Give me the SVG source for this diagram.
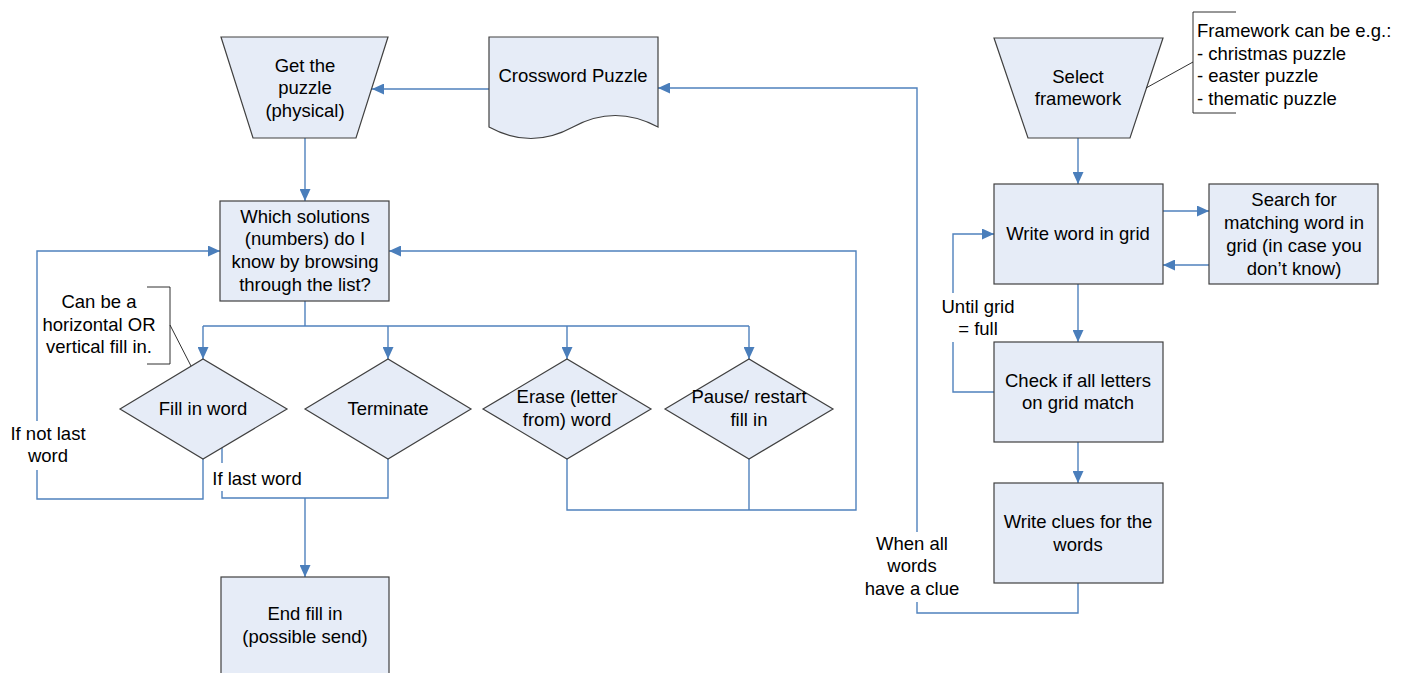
<svg xmlns="http://www.w3.org/2000/svg" width="1412" height="673" viewBox="0 0 1412 673">
  <defs>
    <style>
      .shape { fill: #E6ECF7; stroke: #404040; stroke-width: 1.2; }
      .lbl { font-family: "Liberation Sans", Arial, sans-serif; font-size: 18.5px; fill: #000; text-anchor: middle; }
      .lbl-left { font-family: "Liberation Sans", Arial, sans-serif; font-size: 18.5px; fill: #000; text-anchor: start; }
      .flow { fill: none; stroke: #4F81BD; stroke-width: 1.4; }
      .arrow { fill: none; stroke: #4F81BD; stroke-width: 1.4; marker-end: url(#head); }
      .note { fill: none; stroke: #1A1A1A; stroke-width: 0.9; }
    </style>
    <marker id="head" markerUnits="userSpaceOnUse" markerWidth="13" markerHeight="11" refX="12" refY="5.5" orient="auto">
      <path d="M0,0 L12,5.5 L0,11 z" fill="#4A7EBB"/>
    </marker>
  </defs>
  <rect width="1412" height="673" fill="#FFFFFF"/>

  <!-- connectors -->
  <g id="connectors">
    <!-- crossword puzzle to getting the puzzle -->
    <path class="arrow" d="M489,89 H372"/>
    <!-- get the puzzle to question box -->
    <path class="arrow" d="M305,138 V201"/>
    <!-- branch to the four choices -->
    <path class="flow" d="M305,301 V326"/>
    <path class="flow" d="M203,326 H749"/>
    <path class="arrow" d="M203,326 V359"/>
    <path class="arrow" d="M388,326 V359"/>
    <path class="arrow" d="M567,326 V359"/>
    <path class="arrow" d="M749,326 V359"/>
    <!-- if not last word: back to the list -->
    <path class="flow" d="M203,459 V499 H37 V470"/>
    <path class="arrow" d="M37,421 V251 H220"/>
    <!-- if last word / terminate: to end -->
    <path class="flow" d="M222,448 V463"/>
    <path class="flow" d="M222,491 V498 H388 V459"/>
    <path class="arrow" d="M305,498 V577"/>
    <!-- erase / pause: back to the list -->
    <path class="flow" d="M749,459 V510"/>
    <path class="arrow" d="M567,459 V510 H856 V251 H389"/>
    <!-- construction side -->
    <path class="arrow" d="M1078,138 V184"/>
    <path class="arrow" d="M1163,211 H1209"/>
    <path class="arrow" d="M1209,265 H1163"/>
    <path class="arrow" d="M1078,284 V342"/>
    <path class="flow" d="M994,392 H953 V342"/>
    <path class="arrow" d="M953,293 V234 H994"/>
    <path class="arrow" d="M1078,442 V483"/>
    <path class="flow" d="M1078,583 V613 H917 V602"/>
    <path class="arrow" d="M917,532 V88 H658"/>
  </g>

  <!-- connector labels -->
  <g id="connector-labels">
    <text class="lbl" x="48" y="439.5">If not last</text>
    <text class="lbl" x="48" y="462">word</text>
    <text class="lbl" x="257" y="485">If last word</text>
    <text class="lbl" x="978" y="312.5">Until grid</text>
    <text class="lbl" x="978" y="335">= full</text>
    <text class="lbl" x="912" y="549.5">When all</text>
    <text class="lbl" x="912" y="572">words</text>
    <text class="lbl" x="912" y="594.5">have a clue</text>
  </g>

  <g id="get-puzzle">
    <polygon class="shape" points="221,37 388,37 356,138 253,138"/>
    <text class="lbl" x="305" y="71.7">Get the</text>
    <text class="lbl" x="305" y="94.2">puzzle</text>
    <text class="lbl" x="305" y="116.7">(physical)</text>
  </g>

  <g id="crossword-puzzle">
    <path class="shape" d="M489,37 H658 V127 Q 615,104 573,127 T 489,127 Z"/>
    <text class="lbl" x="573" y="81.7">Crossword Puzzle</text>
  </g>

  <g id="which-solutions">
    <rect class="shape" x="220" y="201" width="169" height="100"/>
    <text class="lbl" x="305" y="222.7">Which solutions</text>
    <text class="lbl" x="305" y="245.3">(numbers) do I</text>
    <text class="lbl" x="305" y="268">know by browsing</text>
    <text class="lbl" x="305" y="290.5">through the list?</text>
  </g>

  <g id="fill-note">
    <path class="note" d="M147,287 H170 V364 H147"/>
    <path class="note" d="M170,325 L191,366"/>
    <text class="lbl" x="99" y="308.3">Can be a</text>
    <text class="lbl" x="99" y="330.5">horizontal OR</text>
    <text class="lbl" x="99" y="352.8">vertical fill in.</text>
  </g>

  <g id="fill-in-word">
    <polygon class="shape" points="120,409 203,359 287,409 203,459"/>
    <text class="lbl" x="203" y="415">Fill in word</text>
  </g>

  <g id="terminate">
    <polygon class="shape" points="305,409 388,359 471,409 388,459"/>
    <text class="lbl" x="388" y="415">Terminate</text>
  </g>

  <g id="erase-word">
    <polygon class="shape" points="483,409 567,359 651,409 567,459"/>
    <text class="lbl" x="567" y="403.3">Erase (letter</text>
    <text class="lbl" x="567" y="425.5">from) word</text>
  </g>

  <g id="pause-restart">
    <polygon class="shape" points="665,409 749,359 833,409 749,459"/>
    <text class="lbl" x="749" y="403.3">Pause/ restart</text>
    <text class="lbl" x="749" y="425.5">fill in</text>
  </g>

  <g id="end-fill-in">
    <rect class="shape" x="221" y="577" width="168" height="104"/>
    <text class="lbl" x="305" y="620">End fill in</text>
    <text class="lbl" x="305" y="643">(possible send)</text>
  </g>

  <g id="select-framework">
    <polygon class="shape" points="994,38 1163,38 1130,138 1028,138"/>
    <text class="lbl" x="1078" y="82.5">Select</text>
    <text class="lbl" x="1078" y="105">framework</text>
  </g>

  <g id="framework-note">
    <path class="note" d="M1236,12 H1193 V113 H1236"/>
    <path class="note" d="M1193,62 L1146,88"/>
    <text class="lbl-left" x="1197" y="37.3">Framework can be e.g.:</text>
    <text class="lbl-left" x="1197" y="59.8">- christmas puzzle</text>
    <text class="lbl-left" x="1197" y="82.3">- easter puzzle</text>
    <text class="lbl-left" x="1197" y="104.8">- thematic puzzle</text>
  </g>

  <g id="write-word">
    <rect class="shape" x="994" y="184" width="169" height="100"/>
    <text class="lbl" x="1078" y="240">Write word in grid</text>
  </g>

  <g id="search-word">
    <rect class="shape" x="1209" y="184" width="169" height="100"/>
    <text class="lbl" x="1294" y="206">Search for</text>
    <text class="lbl" x="1294" y="229">matching word in</text>
    <text class="lbl" x="1294" y="252">grid (in case you</text>
    <text class="lbl" x="1294" y="275">don’t know)</text>
  </g>

  <g id="check-letters">
    <rect class="shape" x="994" y="342" width="169" height="100"/>
    <text class="lbl" x="1078" y="386.7">Check if all letters</text>
    <text class="lbl" x="1078" y="409">on grid match</text>
  </g>

  <g id="write-clues">
    <rect class="shape" x="994" y="483" width="169" height="100"/>
    <text class="lbl" x="1078" y="528.3">Write clues for the</text>
    <text class="lbl" x="1078" y="550.5">words</text>
  </g>
</svg>
